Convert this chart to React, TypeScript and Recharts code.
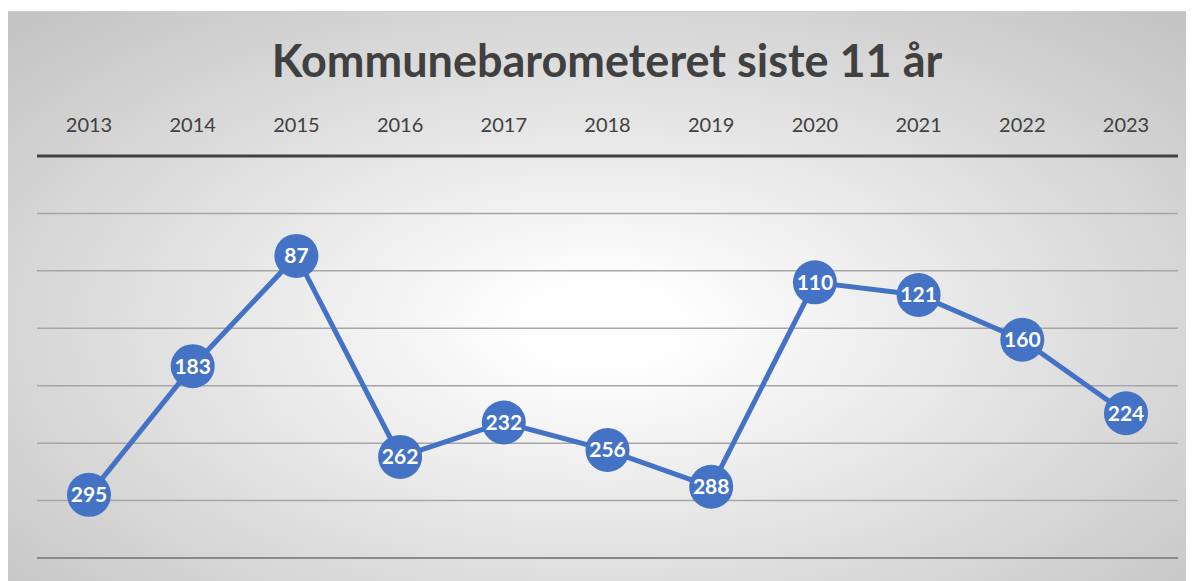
import React from 'react';
import { LineChart, Line, XAxis, YAxis, CartesianGrid, LabelList, ReferenceLine } from 'recharts';

const years = ['2013', '2014', '2015', '2016', '2017', '2018', '2019', '2020', '2021', '2022', '2023'];
const plasseringer = [295, 183, 87, 262, 232, 256, 288, 110, 121, 160, 224];
const yTicks = [0, 50, 100, 150, 200, 250, 300, 350];

const data = years.map((aar, i) => ({ aar, plass: plasseringer[i] }));

const FONT = 'Lato, "Open Sans", sans-serif';
const BLUE = '#4472C4';

export default function App() {
  return (
    <div
      style={{
        position: 'relative',
        marginLeft: -1,
        marginTop: 3,
        width: 1186,
        height: 570,
        borderTop: '1px solid #d0d0d0',
        borderLeft: '1px solid #d0d0d0',
        background: 'radial-gradient(ellipse farthest-corner at 50% 55%, #ffffff 8%, #c2c2c2 100%)',
        fontFamily: FONT,
      }}
    >
      <div
        style={{
          position: 'absolute',
          top: 24,
          left: 6,
          width: '100%',
          textAlign: 'center',
          fontSize: 45,
          fontWeight: 700,
          color: '#404040',
          lineHeight: '48px',
        }}
      >
        Kommunebarometeret siste 11 år
      </div>
      <LineChart width={1186} height={570} data={data} margin={{ top: 104, right: 16, bottom: 24, left: 29 }}>
        <CartesianGrid horizontal vertical={false} stroke="#a6a6a6" strokeWidth={1.5} />
        <XAxis
          dataKey="aar"
          orientation="top"
          height={40}
          padding={{ left: 52, right: 52 }}
          axisLine={{ stroke: '#404040', strokeWidth: 3 }}
          tickLine={false}
          tickMargin={18}
          tick={{ fill: '#404040', fontSize: 20, fontFamily: FONT }}
          interval={0}
        />
        <YAxis hide reversed domain={[0, 350]} ticks={yTicks} />
        <ReferenceLine y={350} stroke="#8a8a8a" strokeWidth={2} />
        <Line
          dataKey="plass"
          stroke={BLUE}
          strokeWidth={5}
          dot={{ r: 22, fill: BLUE, stroke: 'none' }}
          activeDot={false}
          isAnimationActive={false}
        >
          <LabelList
            dataKey="plass"
            position="center"
            fill="#ffffff"
            style={{ fontSize: 21, fontWeight: 700, fontFamily: FONT }}
          />
        </Line>
      </LineChart>
    </div>
  );
}
